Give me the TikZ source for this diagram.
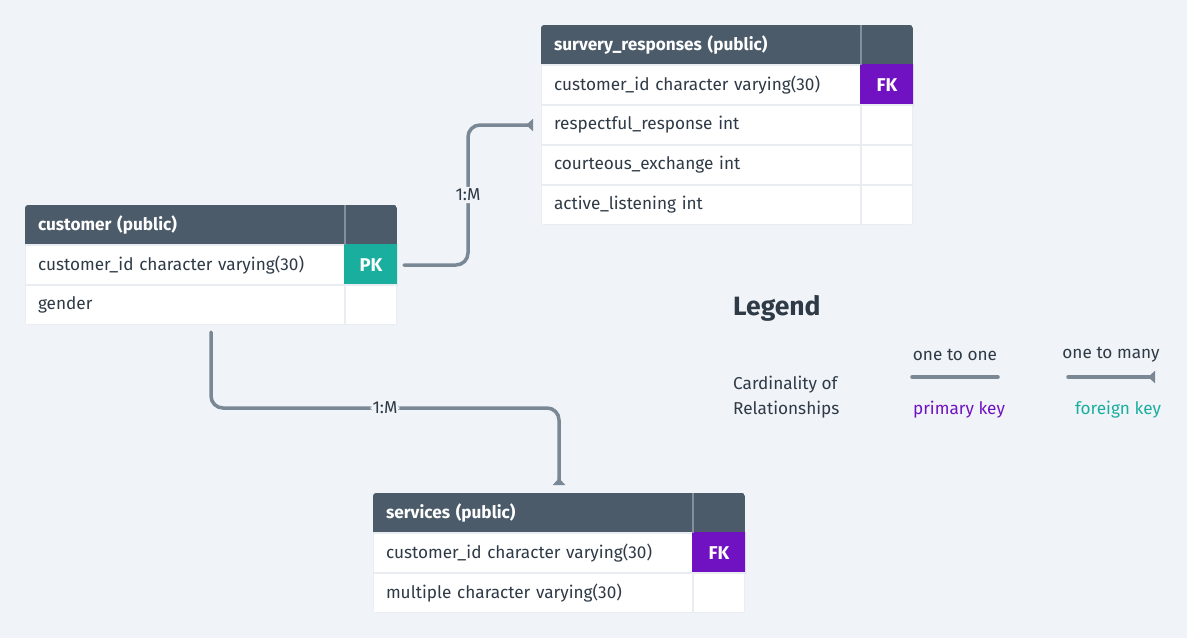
\documentclass[tikz,border=0pt]{standalone}
\usepackage{fontspec}
\setmainfont{Fira Sans}
\usetikzlibrary{positioning,calc,arrows.meta}

\definecolor{bgcol}{RGB}{240,243,247}
\definecolor{hdrcol}{RGB}{75,91,106}
\definecolor{hdrsep}{RGB}{130,144,158}
\definecolor{rowsep}{RGB}{233,237,241}
\definecolor{pkcol}{RGB}{26,174,159}
\definecolor{fkcol}{RGB}{112,18,194}
\definecolor{txtcol}{RGB}{46,58,70}
\definecolor{relcol}{RGB}{122,136,150}

\tikzset{
  cellfont/.style={font=\fontsize{17.2}{20}\selectfont},
  hdrcell/.style={fill=hdrcol, text=white, font=\fontsize{17.2}{20}\selectfont\bfseries,
    minimum height=40pt, inner xsep=13pt, inner ysep=0pt, outer sep=0pt, text width=294pt, align=left},
  hdrkey/.style={fill=hdrcol, minimum height=40pt, minimum width=52pt, inner sep=0pt, outer sep=0pt},
  fieldcell/.style={fill=white, draw=rowsep, line width=1.5pt, text=txtcol, cellfont,
    minimum height=40pt, inner xsep=13pt, inner ysep=0pt, outer sep=0pt, text width=294pt, align=left},
  keycell/.style={fill=white, draw=rowsep, line width=1.5pt, text=white,
    font=\fontsize{18.5}{20}\selectfont\bfseries, minimum height=40pt, minimum width=52pt,
    inner sep=0pt, outer sep=0pt},
  pkcell/.style={keycell, fill=pkcol, draw=pkcol},
  fkcell/.style={keycell, fill=fkcol, draw=fkcol},
  rel/.style={draw=relcol, line width=3.5pt, line cap=round, rounded corners=12pt},
  manyend/.style={-{Triangle[reversed,length=7pt,width=12pt]}},
  rellabel/.style={fill=bgcol, text=txtcol, cellfont, inner sep=2pt},
  legendtxt/.style={text=txtcol, cellfont, inner sep=0pt}
}

\begin{document}
\begin{tikzpicture}[x=1pt,y=1pt,yscale=-1,xscale=1]
  \fill[bgcol] (0,0) rectangle (1187,638);
  \useasboundingbox (0,0) rectangle (1187,638);

  % customer table
  \begin{scope}
    \clip[rounded corners=3pt] (25,205) rectangle (397,325);
    \node[hdrcell, anchor=north west] (chdr) at (25,205) {customer (public)};
    \node[hdrkey, right=0pt of chdr] (chdrk) {};
    \node[fieldcell, below=0pt of chdr] (cid) {customer\_id character varying(30)};
    \node[pkcell, right=0pt of cid] (cidk) {PK};
    \node[fieldcell, below=0pt of cid] (cgender) {gender};
    \node[keycell, right=0pt of cgender] (cgenderk) {};
    \draw[hdrsep, line width=1.5pt] (chdrk.north west) -- (chdrk.south west);
  \end{scope}

  % survery_responses table
  \begin{scope}
    \clip[rounded corners=3pt] (541,25) rectangle (913,225);
    \node[hdrcell, anchor=north west] (shdr) at (541,25) {survery\_responses (public)};
    \node[hdrkey, right=0pt of shdr] (shdrk) {};
    \node[fieldcell, below=0pt of shdr] (sid) {customer\_id character varying(30)};
    \node[fkcell, right=0pt of sid] (sidk) {FK};
    \node[fieldcell, below=0pt of sid] (sresp) {respectful\_response int};
    \node[keycell, right=0pt of sresp] (srespk) {};
    \node[fieldcell, below=0pt of sresp] (scourt) {courteous\_exchange int};
    \node[keycell, right=0pt of scourt] (scourtk) {};
    \node[fieldcell, below=0pt of scourt] (slisten) {active\_listening int};
    \node[keycell, right=0pt of slisten] (slistenk) {};
    \draw[hdrsep, line width=1.5pt] (shdrk.north west) -- (shdrk.south west);
  \end{scope}

  % services table
  \begin{scope}
    \clip[rounded corners=3pt] (373,493) rectangle (745,613);
    \node[hdrcell, anchor=north west] (vhdr) at (373,493) {services (public)};
    \node[hdrkey, right=0pt of vhdr] (vhdrk) {};
    \node[fieldcell, below=0pt of vhdr] (vid) {customer\_id character varying(30)};
    \node[fkcell, right=0pt of vid] (vidk) {FK};
    \node[fieldcell, below=0pt of vid] (vmult) {multiple character varying(30)};
    \node[keycell, right=0pt of vmult] (vmultk) {};
    \draw[hdrsep, line width=1.5pt] (vhdrk.north west) -- (vhdrk.south west);
  \end{scope}

  % relationships
  \draw[rel, manyend] ($(cidk.east)+(7,0)$) -- ++(64,0)
    |- node[rellabel, pos=0.25] {1:M} ($(sresp.west)+(-8,0)$);
  \draw[rel, manyend] ($($(cgender.south west)!0.5!(cgenderk.south east)$)+(0,7)$) -- ++(0,76)
    -| node[rellabel, pos=0.25] {1:M} ($($(vhdr.north west)!0.5!(vhdrk.north east)$)+(0,-8)$);

  % legend
  \node[legendtxt, anchor=west, font=\fontsize{26.5}{30}\selectfont\bfseries] (legtitle) at (733,308) {Legend};
  \node[legendtxt, anchor=west] (legcard) at (733,385) {Cardinality of};
  \node[legendtxt, anchor=west] (legrel) at (733,410) {Relationships};
  \node[legendtxt] (legone) at (955,355) {one to one};
  \node[legendtxt] (legmany) at (1111,355) {one to many};
  \node[legendtxt, text=fkcol] (legpk) at (959,410) {primary key};
  \node[legendtxt, text=pkcol] (legfk) at (1118,410) {foreign key};
  \coordinate (oneA) at (912,377);
  \coordinate (oneB) at (998,377);
  \coordinate (manyA) at (1068,377);
  \coordinate (manyB) at (1155,377);
  \draw[rel] (oneA) -- (oneB);
  \draw[rel, manyend] (manyA) -- (manyB);

\end{tikzpicture}
\end{document}
